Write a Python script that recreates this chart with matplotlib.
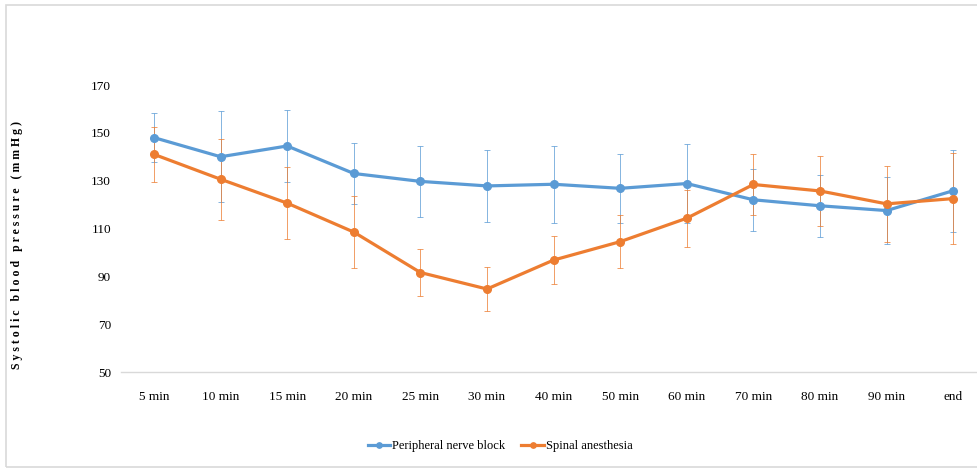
import matplotlib
matplotlib.use("Agg")
import matplotlib.pyplot as plt
from matplotlib.patches import Rectangle

categories = ["5 min", "10 min", "15 min", "20 min", "25 min", "30 min", "40 min",
              "50 min", "60 min", "70 min", "80 min", "90 min", "end"]
pnb_mean = [148.0, 140.0, 144.5, 133.0, 129.7, 127.8, 128.5, 126.8, 128.8, 122.0, 119.5, 117.5, 125.8]
pnb_err = [10.3, 19.0, 15.0, 12.7, 14.7, 15.2, 16.0, 14.5, 16.7, 13.0, 12.9, 14.0, 17.2]
sa_mean = [141.0, 130.6, 120.6, 108.5, 91.6, 84.7, 96.8, 104.5, 114.3, 128.4, 125.7, 120.3, 122.5]
sa_err = [11.5, 17.0, 15.0, 15.0, 10.0, 9.0, 10.0, 11.0, 12.0, 12.7, 14.6, 16.0, 19.0]
yticks = [50, 70, 90, 110, 130, 150, 170]

blue = "#5B9BD5"
orange = "#ED7D31"
serif = ["Liberation Serif", "DejaVu Serif"]

W, H = 977, 469
fig = plt.figure(figsize=(W / 100, H / 100), dpi=100)
fig.patches.append(Rectangle((6 / W, 1 - 467 / H), (W + 10 - 6) / W, (467 - 5) / H,
                             transform=fig.transFigure, fill=False,
                             edgecolor="#d9d9d9", linewidth=1.2, zorder=0))

left, right = 120.7, 976
top, bottom = 85, 372
ax = fig.add_axes([left / W, 1 - bottom / H, (right - left) / W, (bottom - top) / H])
x = list(range(len(categories)))

ax.errorbar(x, pnb_mean, yerr=pnb_err, fmt="none", ecolor=blue, elinewidth=0.7,
            capsize=2, capthick=0.7, alpha=0.75, zorder=2)
ax.errorbar(x, sa_mean, yerr=sa_err, fmt="none", ecolor=orange, elinewidth=0.7,
            capsize=2, capthick=0.7, alpha=0.75, zorder=2)
ax.plot(x, pnb_mean, color=blue, lw=2.3, marker="o", ms=5.5, label="Peripheral nerve block", zorder=3)
ax.plot(x, sa_mean, color=orange, lw=2.3, marker="o", ms=5.5, label="Spinal anesthesia", zorder=3)

ax.set_xlim(-0.5, (right - 154) / 66.6)
ax.set_ylim(50, 170)
ax.set_yticks(yticks)
ax.set_yticklabels([str(v) for v in yticks], fontfamily=serif, fontsize=9.5)
ax.set_xticks(x)
ax.set_xticklabels(categories, fontfamily=serif, fontsize=9.5)
ax.tick_params(length=0)
ax.tick_params(axis="x", pad=14)
ax.tick_params(axis="y", pad=7)
for s in ["top", "right", "left"]:
    ax.spines[s].set_visible(False)
ax.spines["bottom"].set_color("#d9d9d9")
ax.spines["bottom"].set_linewidth(1)

fig.text(17 / W, 1 - 245 / H, "S y s t o l i c   b l o o d   p r e s s u r e   ( m m H g )",
         rotation=90, ha="center", va="center", fontfamily=serif, fontsize=8.5,
         fontweight="bold")

leg = fig.legend(loc="center", bbox_to_anchor=(500 / W, 1 - 446 / H), ncol=2, frameon=False,
                 prop={"family": serif, "size": 9}, handlelength=1.8, handletextpad=0.15,
                 columnspacing=1.3, markerscale=0.7)

fig.savefig("out.png", dpi=100)
